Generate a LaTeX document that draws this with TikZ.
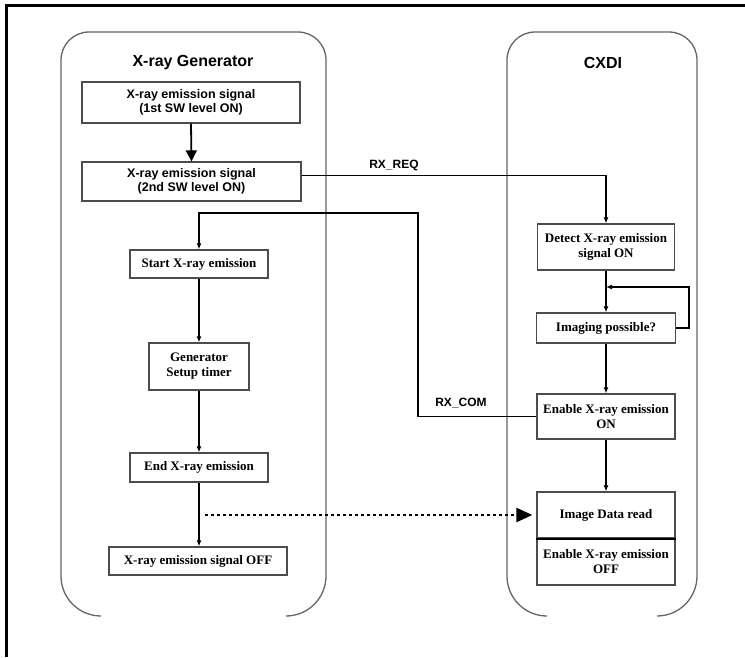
\documentclass[tikz,border=0pt]{standalone}
\usepackage{fontspec}
\setmainfont{Liberation Serif}
\setsansfont{Liberation Sans}
\usetikzlibrary{arrows.meta,calc}
\begin{document}
\begin{tikzpicture}[x=1pt,y=-1pt,
  panel/.style={draw=black!60, line width=1.3pt},
  sbox/.style={draw=black!70, line width=1.3pt, fill=white, inner sep=1pt, align=center,
    font=\sffamily\bfseries\fontsize{12.5}{14}\selectfont},
  rbox/.style={draw=black!70, line width=1.3pt, fill=white, inner sep=1pt, align=center,
    font=\rmfamily\bfseries\fontsize{13}{15}\selectfont},
  ttl/.style={font=\sffamily\bfseries\fontsize{16}{18}\selectfont},
  lbl/.style={font=\sffamily\bfseries\fontsize{12}{14}\selectfont},
  flow/.style={line width=1.8pt, -{Latex[length=6pt,width=5pt]}},
  sig/.style={line width=1.3pt},
  sigarrow/.style={line width=1.3pt, -{Latex[length=6pt,width=5pt]}}
]
\useasboundingbox (0,0) rectangle (745,657);
\fill[white] (0,0) rectangle (745,657);
% outer frame (top and left)
\draw[line width=3pt] (6,657) -- (6,5) -- (745,5);

% panels (bottom edge open)
\draw[panel] (101,616) [rounded corners=40] -- (61,616) -- (61,300)
  [rounded corners=28] -- (61,32) -- (326,32) -- (326,300)
  [rounded corners=40] -- (326,616) -- (286,616);
\draw[panel] (547,616) [rounded corners=40] -- (507,616) -- (507,300)
  [rounded corners=28] -- (507,32) -- (697,32) -- (697,300)
  [rounded corners=40] -- (697,616) -- (657,616);

% titles
\node[ttl] (gtitle) at (193,63) {X-ray Generator};
\node[ttl] (ctitle) at (603,63) {CXDI};

% generator column
\node[sbox, minimum width=218, minimum height=41] (b1) at (191,102.5)
  {X-ray emission signal\\(1st SW level ON)};
\node[sbox, minimum width=219, minimum height=39] (b2) at (191.5,181.5)
  {X-ray emission signal\\(2nd SW level ON)};
\node[rbox, minimum width=138, minimum height=28] (start) at (199,264) {Start X-ray emission};
\node[rbox, minimum width=100, minimum height=47] (gen) at (199,366.5) {Generator\\Setup timer};
\node[rbox, minimum width=138, minimum height=29] (endx) at (199,467.5) {End X-ray emission};
\node[rbox, minimum width=178, minimum height=28] (off) at (198,561) {X-ray emission signal OFF};

% CXDI column
\node[rbox, minimum width=137, minimum height=46] (detect) at (606,247)
  {Detect X-ray emission\\signal ON};
\node[rbox, minimum width=139, minimum height=30] (imaging) at (606,328) {Imaging possible?};
\node[rbox, minimum width=138, minimum height=45] (enon) at (606,416.5)
  {Enable X-ray emission\\ON};
\node[rbox, minimum width=138, minimum height=46] (imgread) at (606,515) {Image Data read};
\node[rbox, minimum width=138, minimum height=47] (enoff) at (606,561.5)
  {Enable X-ray emission\\OFF};
\draw[line width=2.2pt] (imgread.south west) -- (imgread.south east);

% generator flow
\draw[line width=1.8pt, -{Triangle[length=11pt,width=11pt]}] (b1.south) -- (b2.north);
\draw[flow] (start.south) -- (gen.north);
\draw[flow] (gen.south) -- (endx.north);
\draw[flow] (endx.south) -- ([xshift=1pt]off.north);

% CXDI flow
\coordinate (loopin) at (606,287);
\draw[flow] (detect.south) -- (imaging.north);
\draw[line width=1.8pt, -{Latex[length=6pt,width=5pt]}] (imaging.east) -- (689,328) -- (689,287) -- (loopin);
\draw[flow] (imaging.south) -- (enon.north);
\draw[flow] (enon.south) -- (imgread.north);

% signals
\draw[sigarrow] ([yshift=6pt]b2.east) -| (detect.north);
\node[lbl] (rxreq) at (394,165) {RX\_REQ};
\draw[sigarrow] (enon.west) -| (418,213) -| (start.north);
\node[lbl] (rxcom) at (461,403) {RX\_COM};

% dotted arrow
\coordinate (dotstart) at (205,515);
\draw[line width=2.4pt, dash pattern=on 2.5pt off 3.5pt, -{Triangle[length=16pt,width=14pt]}] (dotstart) -- ([xshift=-4pt]imgread.west);
\end{tikzpicture}
\end{document}
